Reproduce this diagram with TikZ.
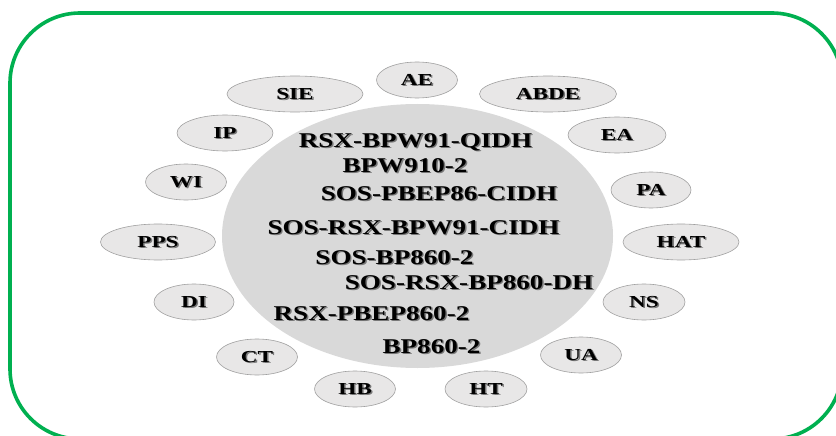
\documentclass[tikz,border=0pt]{standalone}
\usepackage{fontspec}
\setmainfont{Liberation Serif}
\usetikzlibrary{shapes.geometric}
\definecolor{framegreen}{RGB}{0,176,80}
\definecolor{bigfill}{RGB}{217,217,217}
\definecolor{smfill}{RGB}{232,231,231}
\definecolor{smborder}{RGB}{160,160,160}
\definecolor{shadowgray}{RGB}{120,120,120}
\newcommand\shadowed[1]{\makebox[0pt][l]{\raisebox{-1.1pt}{\hspace{1.1pt}\textcolor{shadowgray}{#1}}}#1}
\newcommand\bigtxt[1]{\scalebox{1.29}[1]{\shadowed{#1}}}
\newcommand\smtxt[1]{\scalebox{1.38}[1]{\shadowed{#1}}}
\begin{document}
\begin{tikzpicture}[x=1pt,y=-1pt,
  bigline/.style={inner sep=0pt, anchor=base, font=\fontsize{21}{25}\selectfont\bfseries},
  smell/.style={ellipse, draw=smborder, line width=0.6pt, fill=smfill, minimum height=36pt,
    inner sep=0pt, text depth=0pt, font=\fontsize{16.8}{19}\selectfont\bfseries},
  frame/.style={draw=framegreen, line width=3.6pt, rounded corners=70pt}]
\useasboundingbox (0,0) rectangle (836,436);
\clip (0,0) rectangle (836,436);
\draw[frame] (10,13) rectangle (842,439);
\node[ellipse, fill=bigfill, minimum width=391pt, minimum height=264pt, inner sep=0pt] (core) at (417.5,236) {};
% central texts
\node[bigline] (t1) at (415.5,147) {\bigtxt{RSX-BPW91-QIDH}};
\node[bigline] (t2) at (405,172) {\bigtxt{BPW910-2}};
\node[bigline] (t3) at (439,200.5) {\bigtxt{SOS-PBEP86-CIDH}};
\node[bigline] (t4) at (413.5,234) {\bigtxt{SOS-RSX-BPW91-CIDH}};
\node[bigline] (t5) at (394.5,264.5) {\bigtxt{SOS-BP860-2}};
\node[bigline] (t6) at (469,289.5) {\bigtxt{SOS-RSX-BP860-DH}};
\node[bigline] (t7) at (371.5,320.5) {\bigtxt{RSX-PBEP860-2}};
\node[bigline] (t8) at (431.5,353.5) {\bigtxt{BP860-2}};
% surrounding ellipses
\node[smell, minimum width=81pt] (ae) at (417,80) {\smtxt{AE}};
\node[smell, minimum width=136pt] (sie) at (295,94) {\smtxt{SIE}};
\node[smell, minimum width=96pt] (ip) at (225,133) {\smtxt{IP}};
\node[smell, minimum width=81pt] (wi) at (186,182) {\smtxt{WI}};
\node[smell, minimum width=115pt] (pps) at (158,242) {\smtxt{PPS}};
\node[smell, minimum width=80pt] (di) at (194,302) {\smtxt{DI}};
\node[smell, minimum width=81pt] (ct) at (257,357) {\smtxt{CT}};
\node[smell, minimum width=81pt] (hb) at (355,389) {\smtxt{HB}};
\node[smell, minimum width=137pt] (abde) at (548,94) {\smtxt{ABDE}};
\node[smell, minimum width=98pt] (ea) at (617,135) {\smtxt{EA}};
\node[smell, minimum width=80pt] (pa) at (651,190) {\smtxt{PA}};
\node[smell, minimum width=116pt] (hat) at (681,242) {\smtxt{HAT}};
\node[smell, minimum width=82pt] (ns) at (644,302) {\smtxt{NS}};
\node[smell, minimum width=81pt] (ua) at (581,355) {\smtxt{UA}};
\node[smell, minimum width=82pt] (ht) at (486,389) {\smtxt{HT}};
\end{tikzpicture}
\end{document}
